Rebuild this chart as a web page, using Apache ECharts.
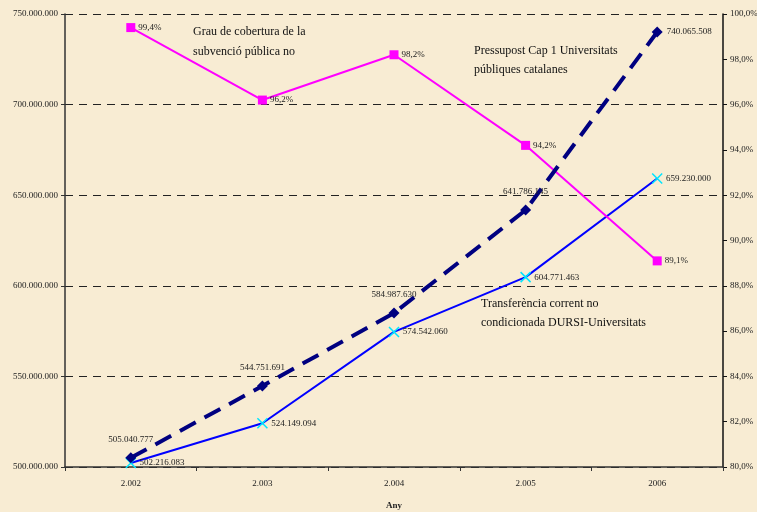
<!DOCTYPE html>
<html>
<head>
<meta charset="utf-8">
<script src="https://cdn.jsdelivr.net/npm/echarts@6/dist/echarts.min.js"></script>
<style>
  html, body { margin: 0; padding: 0; background: #f8ecd3; }
  #chart { width: 757px; height: 512px; }
</style>
</head>
<body>
<div id="chart"></div>
<script>
const years = ['2.002', '2.003', '2.004', '2.005', '2006'];
const pressupost = [505040777, 544751691, 584987630, 641786145, 740065508];
const transferencia = [502216083, 524149094, 574542060, 604771463, 659230000];
const grauCobertura = [99.4, 96.2, 98.2, 94.2, 89.1];

const serif = '"Liberation Serif", "DejaVu Serif", serif';

// números amb punt de milers
function fmtNum(v) {
  return String(Math.round(v)).replace(/\B(?=(\d{3})+(?!\d))/g, '.');
}
function fmtPct(v) {
  return v.toFixed(1).replace('.', ',') + '%';
}

const chart = echarts.init(document.getElementById('chart'));

const option = {
  backgroundColor: '#f8ecd3',
  textStyle: { fontFamily: serif },
  grid: { left: 65, right: 34, top: 14, bottom: 45, outerBoundsMode: 'none', containLabel: false },
  xAxis: {
    type: 'category',
    data: years,
    boundaryGap: true,
    name: 'Any',
    nameLocation: 'middle',
    nameGap: 34,
    nameTextStyle: { fontFamily: serif, fontSize: 9, fontWeight: 'bold', color: '#222' },
    axisLine: { lineStyle: { color: '#333', width: 1.5 } },
    axisTick: { show: true, alignWithLabel: false, length: 4, lineStyle: { color: '#333' } },
    axisLabel: { fontFamily: serif, fontSize: 9, color: '#222', margin: 12 }
  },
  yAxis: [
    {
      type: 'value',
      min: 500000000,
      max: 750000000,
      interval: 50000000,
      axisLine: { show: true, lineStyle: { color: '#333', width: 1.5 } },
      axisTick: { show: true, length: 4, lineStyle: { color: '#333' } },
      axisLabel: { fontFamily: serif, fontSize: 9, color: '#222', margin: 7, formatter: fmtNum },
      splitLine: { show: true, lineStyle: { color: '#222', type: [8, 6], width: 1 } }
    },
    {
      type: 'value',
      min: 80,
      max: 100,
      interval: 2,
      position: 'right',
      axisLine: { show: true, lineStyle: { color: '#111', width: 1.5 } },
      axisTick: { show: true, length: 4, lineStyle: { color: '#111' } },
      axisLabel: { fontFamily: serif, fontSize: 9, color: '#222', margin: 7, formatter: fmtPct },
      splitLine: { show: false }
    }
  ],
  graphic: [
    { type: 'text', left: 193, top: 22, style: { text: 'Grau de cobertura de la\nsubvenció pública no', font: '12px ' + serif, fill: '#111', lineHeight: 20 } },
    { type: 'text', left: 474, top: 41, style: { text: 'Pressupost Cap 1 Universitats\npúbliques catalanes', font: '12px ' + serif, fill: '#111', lineHeight: 19 } },
    { type: 'text', left: 481, top: 294, style: { text: 'Transferència corrent no\ncondicionada DURSI-Universitats', font: '12px ' + serif, fill: '#111', lineHeight: 19 } }
  ],
  series: [
    {
      name: 'Pressupost Cap 1 Universitats públiques catalanes',
      type: 'line',
      data: pressupost.map((v, i) => i === pressupost.length - 1
        ? { value: v, label: { position: 'right', distance: 4 } }
        : v),
      yAxisIndex: 0,
      symbol: 'diamond',
      symbolSize: 11,
      itemStyle: { color: '#000080' },
      lineStyle: { color: '#000080', width: 4, type: [18, 10] },
      label: {
        show: true,
        position: 'top',
        distance: 8,
        fontFamily: serif,
        fontSize: 9,
        color: '#222',
        formatter: p => fmtNum(p.value)
      },
      z: 3
    },
    {
      name: 'Transferència corrent no condicionada DURSI-Universitats',
      type: 'line',
      data: transferencia,
      yAxisIndex: 0,
      symbol: 'path://M0,0L10,10M10,0L0,10',
      symbolSize: 10,
      itemStyle: { color: '#00e5ff', borderColor: '#00e5ff', borderWidth: 1.5 },
      lineStyle: { color: '#0000ff', width: 2 },
      label: {
        show: true,
        position: 'right',
        distance: 3,
        fontFamily: serif,
        fontSize: 9,
        color: '#222',
        formatter: p => fmtNum(p.value)
      },
      z: 2
    },
    {
      name: 'Grau de cobertura de la subvenció pública no condicionada',
      type: 'line',
      data: grauCobertura,
      yAxisIndex: 1,
      symbol: 'rect',
      symbolSize: 9,
      itemStyle: { color: '#ff00ff' },
      lineStyle: { color: '#ff00ff', width: 2 },
      label: {
        show: true,
        position: 'right',
        distance: 3,
        fontFamily: serif,
        fontSize: 9,
        color: '#222',
        formatter: p => fmtPct(p.value)
      },
      z: 2
    }
  ]
};

chart.setOption(option);
</script>
</body>
</html>
